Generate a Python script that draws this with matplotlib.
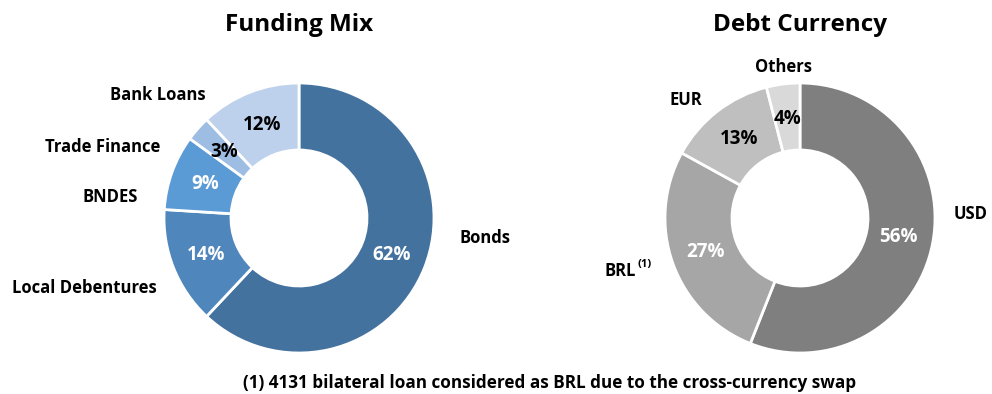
import matplotlib
matplotlib.use("Agg")
import matplotlib.pyplot as plt

plt.rcParams['font.family'] = ['Open Sans', 'DejaVu Sans']

funding_labels = ["Bonds", "Local Debentures", "BNDES", "Trade Finance", "Bank Loans"]
funding_values = [62, 14, 9, 3, 12]
funding_colors = ["#44729F", "#4F86BC", "#5B9BD5", "#9DBDE3", "#BDD1EC"]
funding_pct_colors = ["white", "white", "white", "black", "black"]

currency_labels = ["USD", "BRL", "EUR", "Others"]
currency_values = [56, 27, 13, 4]
currency_colors = ["#7F7F7F", "#A6A6A6", "#BFBFBF", "#D9D9D9"]
currency_pct_colors = ["white", "white", "black", "black"]

W, H = 992, 394
fig = plt.figure(figsize=(W / 100, H / 100), dpi=100)
ax = fig.add_axes([0, 0, 1, 1])


# y axis is inverted afterwards, so angles are mirrored: start at -90, counterclockwise
def donut(center, values, colors, pct_colors):
    wedges, _, autotexts = ax.pie(
        values, colors=colors, startangle=-90, counterclock=True,
        center=center, radius=135, autopct='%d%%', pctdistance=0.74,
        wedgeprops=dict(width=67, edgecolor='white', linewidth=2),
        textprops=dict(fontsize=13.5, fontweight='bold'))
    for t, c in zip(autotexts, pct_colors):
        t.set_color(c)
    return wedges, autotexts


donut((299, 218), funding_values, funding_colors, funding_pct_colors)
donut((800, 218), currency_values, currency_colors, currency_pct_colors)
ax.set_xlim(0, W)
ax.set_ylim(H, 0)
ax.set_aspect('equal')
ax.axis('off')

lab = dict(fontsize=12, fontweight='bold', ha='center', va='center', color='black')
ax.text(299, 25, "Funding Mix", fontsize=17.5, fontweight='bold', ha='center', va='center')
ax.text(800, 25, "Debt Currency", fontsize=17.5, fontweight='bold', ha='center', va='center')

ax.text(485, 238, funding_labels[0], **lab)
ax.text(84, 288, funding_labels[1], **lab)
ax.text(110, 197, funding_labels[2], **lab)
ax.text(103, 147, funding_labels[3], **lab)
ax.text(158, 95, funding_labels[4], **lab)

ax.text(971, 214, currency_labels[0], **lab)
ax.text(636, 271, currency_labels[1], fontsize=12, fontweight='bold', ha='right', va='center')
ax.text(637, 265, "(1)", fontsize=8, fontweight='bold', ha='left', va='center')
ax.text(686, 100, currency_labels[2], **lab)
ax.text(783, 67, currency_labels[3], **lab)

ax.text(550, 383, "(1) 4131 bilateral loan considered as BRL due to the cross-currency swap",
        fontsize=12.3, fontweight='bold', ha='center', va='center')

fig.savefig("out.png", dpi=100)
